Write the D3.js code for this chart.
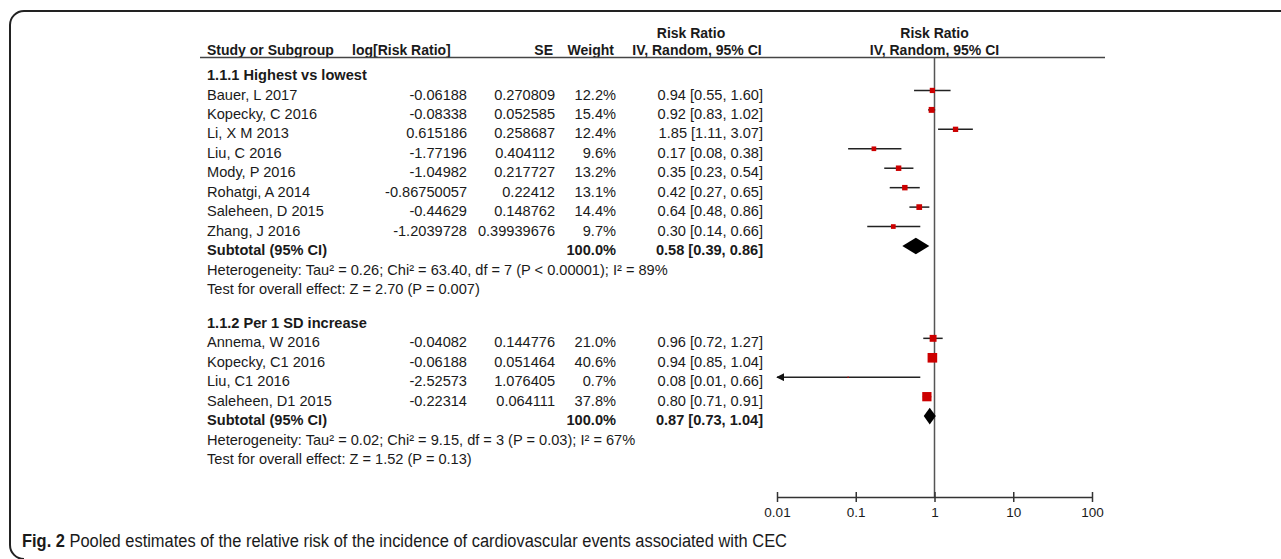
<!DOCTYPE html>
<html>
<head>
<meta charset="utf-8">
<script src="https://cdn.jsdelivr.net/npm/d3@7/dist/d3.min.js"></script>
<style>
  body { margin: 0; background: #fff; }
  svg text { font-family: "Liberation Sans", Arial, sans-serif; fill: #1a1a1a; }
  .bold { font-weight: 700; }
</style>
</head>
<body>
<svg id="chart" width="1281" height="559"></svg>
<script>
// ---- subgroup 1.1.1 Highest vs lowest
var names1   = ["Bauer, L 2017", "Kopecky, C 2016", "Li, X M 2013", "Liu, C 2016",
                "Mody, P 2016", "Rohatgi, A 2014", "Saleheen, D 2015", "Zhang, J 2016"];
var logRR1   = ["-0.06188", "-0.08338", "0.615186", "-1.77196", "-1.04982", "-0.86750057", "-0.44629", "-1.2039728"];
var se1      = ["0.270809", "0.052585", "0.258687", "0.404112", "0.217727", "0.22412", "0.148762", "0.39939676"];
var weight1  = [12.2, 15.4, 12.4, 9.6, 13.2, 13.1, 14.4, 9.7];
var rr1      = [0.94, 0.92, 1.85, 0.17, 0.35, 0.42, 0.64, 0.30];
var lo1      = [0.55, 0.83, 1.11, 0.08, 0.23, 0.27, 0.48, 0.14];
var hi1      = [1.60, 1.02, 3.07, 0.38, 0.54, 0.65, 0.86, 0.66];
var sub1     = [0.58, 0.39, 0.86];
var het1     = "Heterogeneity: Tau\u00b2 = 0.26; Chi\u00b2 = 63.40, df = 7 (P < 0.00001); I\u00b2 = 89%";
var test1    = "Test for overall effect: Z = 2.70 (P = 0.007)";

// ---- subgroup 1.1.2 Per 1 SD increase
var names2   = ["Annema, W 2016", "Kopecky, C1 2016", "Liu, C1 2016", "Saleheen, D1 2015"];
var logRR2   = ["-0.04082", "-0.06188", "-2.52573", "-0.22314"];
var se2      = ["0.144776", "0.051464", "1.076405", "0.064111"];
var weight2  = [21.0, 40.6, 0.7, 37.8];
var rr2      = [0.96, 0.94, 0.08, 0.80];
var lo2      = [0.72, 0.85, 0.01, 0.71];
var hi2      = [1.27, 1.04, 0.66, 0.91];
var sub2     = [0.87, 0.73, 1.04];
var het2     = "Heterogeneity: Tau\u00b2 = 0.02; Chi\u00b2 = 9.15, df = 3 (P = 0.03); I\u00b2 = 67%";
var test2    = "Test for overall effect: Z = 1.52 (P = 0.13)";

var axisTicks = [0.01, 0.1, 1, 10, 100];
var axisLabels = ["0.01", "0.1", "1", "10", "100"];

var svg = d3.select("#chart");
var f2 = d3.format(".2f"), f1 = d3.format(".1f");

var x = d3.scaleLog().domain([0.01, 100]).range([777, 1092]);
var rowY = d3.scaleLinear().domain([0, 19.75]).range([75, 459]);
var box = d3.scaleSqrt().domain([0, 40.6]).range([0, 9.6]);

var col = {name: 207, logrr: 467, se: 555, wt: 616, ci: 763};
var fs = 14.6;

// frame
svg.append("path")
  .attr("d", "M1281,11 H24 A14,14 0 0 0 10,25 V545 A14,14 0 0 0 24,559")
  .attr("fill", "none").attr("stroke", "#222").attr("stroke-width", 2);

// header
var hdr = svg.append("g").attr("class", "bold").style("font-size", "14px");
hdr.append("text").attr("x", 691).attr("y", 33).attr("dy", "0.35em").attr("text-anchor", "middle").attr("class", "bold").text("Risk Ratio");
hdr.append("text").attr("x", x(1)).attr("y", 33).attr("dy", "0.35em").attr("text-anchor", "middle").attr("class", "bold").text("Risk Ratio");
var hy = 50;
hdr.append("text").attr("x", col.name).attr("y", hy).attr("dy", "0.35em").attr("class", "bold").text("Study or Subgroup");
hdr.append("text").attr("x", 352).attr("y", hy).attr("dy", "0.35em").attr("class", "bold").text("log[Risk Ratio]");
hdr.append("text").attr("x", 553).attr("y", hy).attr("dy", "0.35em").attr("text-anchor", "end").attr("class", "bold").text("SE");
hdr.append("text").attr("x", 614).attr("y", hy).attr("dy", "0.35em").attr("text-anchor", "end").attr("class", "bold").text("Weight");
hdr.append("text").attr("x", 697).attr("y", hy).attr("dy", "0.35em").attr("text-anchor", "middle").attr("class", "bold").text("IV, Random, 95% CI");
hdr.append("text").attr("x", x(1)).attr("y", hy).attr("dy", "0.35em").attr("text-anchor", "middle").attr("class", "bold").text("IV, Random, 95% CI");
svg.append("line").attr("x1", 200).attr("x2", 1105).attr("y1", 57.5).attr("y2", 57.5)
  .attr("stroke", "#444").attr("stroke-width", 1.5);

// vertical line of no effect
svg.append("line").attr("x1", x(1)).attr("x2", x(1)).attr("y1", 57.5).attr("y2", 497)
  .attr("stroke", "#555").attr("stroke-width", 1.5);

// arrow marker
svg.append("defs").append("marker").attr("id", "arrowL")
  .attr("viewBox", "0 0 10 10").attr("refX", 1).attr("refY", 5)
  .attr("markerWidth", 8).attr("markerHeight", 8).attr("markerUnits", "userSpaceOnUse")
  .attr("orient", "auto")
  .append("path").attr("d", "M10,0 L0,5 L10,10 Z").attr("fill", "#111");

function txt(g, xx, yy, s, anchor, bold) {
  return g.append("text").attr("x", xx).attr("y", yy).attr("dy", "0.35em")
    .attr("text-anchor", anchor || "start").attr("class", bold ? "bold" : null)
    .style("font-size", fs + "px").text(s);
}

function drawGroup(title, start, names, logRR, se, weight, rr, lo, hi, sub, het, test) {
  var g = svg.append("g");
  txt(g, col.name, rowY(start), title, "start", true);
  var rows = names.map(function (n, i) {
    return {name: n, logrr: logRR[i], se: se[i], wt: weight[i], rr: rr[i], lo: lo[i], hi: hi[i], y: rowY(start + 1 + i)};
  });
  rows.forEach(function (d) {
    txt(g, col.name, d.y, d.name);
    txt(g, col.logrr, d.y, d.logrr, "end");
    txt(g, col.se, d.y, d.se, "end");
    txt(g, col.wt, d.y, f1(d.wt) + "%", "end");
    txt(g, col.ci, d.y, f2(d.rr) + " [" + f2(d.lo) + ", " + f2(d.hi) + "]", "end");
  });
  var my = -4;
  g.selectAll("line.ci").data(rows).enter().append("line").attr("class", "ci")
    .attr("x1", function (d) { return x(Math.max(d.lo, x.domain()[0])); })
    .attr("x2", function (d) { return x(d.hi); })
    .attr("y1", function (d) { return d.y + my; }).attr("y2", function (d) { return d.y + my; })
    .attr("stroke", "#222").attr("stroke-width", 1.5)
    .attr("marker-start", function (d) { return d.lo <= x.domain()[0] ? "url(#arrowL)" : null; });
  g.selectAll("rect.box").data(rows).enter().append("rect").attr("class", "box")
    .attr("x", function (d) { return x(d.rr) - box(d.wt) / 2; })
    .attr("y", function (d) { return d.y + my - box(d.wt) / 2; })
    .attr("width", function (d) { return box(d.wt); })
    .attr("height", function (d) { return box(d.wt); })
    .attr("fill", "#cc0000");
  var sy = rowY(start + 1 + names.length);
  txt(g, col.name, sy, "Subtotal (95% CI)", "start", true);
  txt(g, col.wt, sy, "100.0%", "end", true);
  txt(g, col.ci, sy, f2(sub[0]) + " [" + f2(sub[1]) + ", " + f2(sub[2]) + "]", "end", true);
  var dy = sy + my, h = 8.3;
  g.append("path")
    .attr("d", "M" + x(sub[1]) + "," + dy + " L" + x(sub[0]) + "," + (dy - h) + " L" + x(sub[2]) + "," + dy + " L" + x(sub[0]) + "," + (dy + h) + " Z")
    .attr("fill", "#000");
  txt(g, col.name, rowY(start + 2 + names.length), het);
  txt(g, col.name, rowY(start + 3 + names.length), test);
}

drawGroup("1.1.1 Highest vs lowest", 0, names1, logRR1, se1, weight1, rr1, lo1, hi1, sub1, het1, test1);
drawGroup("1.1.2 Per 1 SD increase", 12.75, names2, logRR2, se2, weight2, rr2, lo2, hi2, sub2, het2, test2);

// axis
var ax = svg.append("g").attr("transform", "translate(0,497)")
  .call(d3.axisBottom(x).tickValues(axisTicks).tickSize(4).tickSizeOuter(0)
    .tickFormat(function (d, i) { return axisLabels[i]; }));
ax.select(".domain").attr("stroke", "#333").attr("stroke-width", 1.5);
ax.selectAll(".tick line").attr("y1", -5).attr("y2", 5).attr("stroke", "#333").attr("stroke-width", 1.5);
ax.selectAll(".tick text").attr("y", 10).style("font-size", "13.5px")
  .style("font-family", "'Liberation Sans', Arial, sans-serif").attr("fill", "#1a1a1a");

// caption
var cap = svg.append("text").attr("x", 22).attr("y", 541).attr("dy", "0.35em")
  .attr("textLength", 765).attr("lengthAdjust", "spacingAndGlyphs")
  .style("font-family", "'Liberation Sans Narrow', 'Liberation Sans', Arial, sans-serif")
  .style("font-size", "18px");
cap.append("tspan").attr("font-weight", 700).text("Fig. 2");
cap.append("tspan").text(" Pooled estimates of the relative risk of the incidence of cardiovascular events associated with CEC");
</script>
</body>
</html>
